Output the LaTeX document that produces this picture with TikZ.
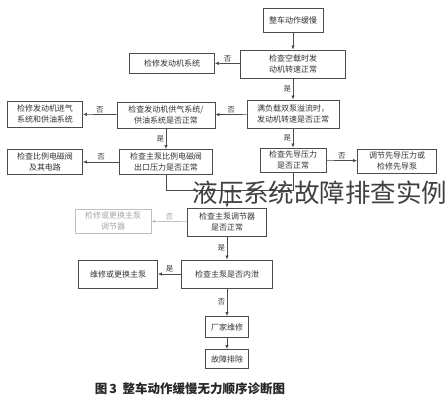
\documentclass[tikz,border=0pt]{standalone}
\usepackage{fontspec}
\newfontfamily\cjk{Noto Sans CJK SC}
\usetikzlibrary{positioning, calc, arrows.meta}

\begin{document}
\begin{tikzpicture}
	[x=1pt, y=-1pt,
	 box/.style={draw=black!70, line width=0.8pt, align=center, inner sep=1pt,
	   font=\cjk\fontsize{8}{10.5}\selectfont, text=black!80},
	 faint/.style={box, draw=black!25, text=black!35},
	 lbl/.style={font=\cjk\fontsize{7.5}{9}\selectfont, text=black!75, inner sep=1.5pt},
	 arr/.style={draw=black!70, line width=0.7pt, -{Latex[length=4pt, width=3.5pt]}},
	 ln/.style={draw=black!70, line width=0.7pt}]
	\useasboundingbox (0,0) rectangle (448,400);
	\fill[white] (0,0) rectangle (448,400);

	% main column
	\node[box, minimum width=60, minimum height=24] (start) at (293,20) {整车动作缓慢};
	\node[box, minimum width=105, minimum height=28] (idle) at (293,64) {检查空载时发\\动机转速正常};
	\node[box, minimum width=92, minimum height=28] (load) at (293,114) {满负载双泵溢流时，\\发动机转速是否正常};
	\node[box, minimum width=66, minimum height=24] (pilot) at (293,160) {检查先导压力\\是否正常};

	% branches
	\node[box, minimum width=85, minimum height=20] (engine) at (172,63) {检修发动机系统};
	\node[box, minimum width=98, minimum height=26] (supply) at (166,115) {检查发动机供气系统/\\供油系统是否正常};
	\node[box, minimum width=75, minimum height=26] (intake) at (45,114) {检修发动机进气\\系统和供油系统};
	\node[box, minimum width=93, minimum height=25] (valve) at (166,162) {检查主泵比例电磁阀\\出口压力是否正常};
	\node[box, minimum width=75, minimum height=25] (circuit) at (45,162) {检查比例电磁阀\\及其电路};
	\node[box, minimum width=79, minimum height=24] (adjust) at (397,161) {调节先导压力或\\检修先导泵};

	% lower part
	\coordinate (join) at (227,190);
	\node[box, minimum width=79, minimum height=28] (regul) at (227,222) {检查主泵调节器\\是否正常};
	\node[faint, minimum width=76, minimum height=24] (fixreg) at (113,221) {检修或更换主泵\\调节器};
	\node[box, minimum width=91, minimum height=28] (leak) at (227,274) {检查主泵是否内泄};
	\node[box, minimum width=79, minimum height=28] (pump) at (118,274) {维修或更换主泵};
	\node[box, minimum width=43, minimum height=21] (factory) at (227,327) {厂家维修};
	\node[box, minimum width=43, minimum height=19] (done) at (227,359) {故障排除};

	\draw[arr] (start) -- (idle);
	\draw[arr] (idle) -- node[lbl, above] {否} (engine);
	\draw[arr] (idle) -- node[lbl, left] {是} (load);
	\draw[arr] (load) -- node[lbl, above] {否} (supply);
	\draw[arr] (load) -- node[lbl, left] {是} (pilot);
	\draw[arr] (supply) -- node[lbl, above] {否} (intake);
	\draw[arr] (supply) -- node[lbl, left] {是} (valve);
	\draw[arr] (valve) -- node[lbl, above] {否} (circuit);
	\draw[arr] (pilot) -- node[lbl, above] {否} (adjust);
	\draw[ln] (valve.south) |- (join);
	\draw[ln] (pilot.south) |- (join);
	\draw[arr] (join) -- (regul);
	\draw[arr, draw=black!25] (regul) -- node[lbl, above, text=black!35] {否} (fixreg);
	\draw[arr] (regul) -- node[lbl, left] {是} (leak);
	\draw[arr] (leak) -- node[lbl, above] {是} (pump);
	\draw[arr] (leak) -- node[lbl, left] {否} (factory);
	\draw[arr] (factory) -- (done);

	\node[font=\cjk\fontsize{12.5}{14}\selectfont\bfseries, text=black!85] (caption) at (190,389) {图\,3\ \ 整车动作缓慢无力顺序诊断图};

	\node[font=\cjk\fontsize{25.5}{28}\selectfont, text=black!75] (mark) at (320,193) {液压系统故障排查实例};
\end{tikzpicture}
\end{document}
